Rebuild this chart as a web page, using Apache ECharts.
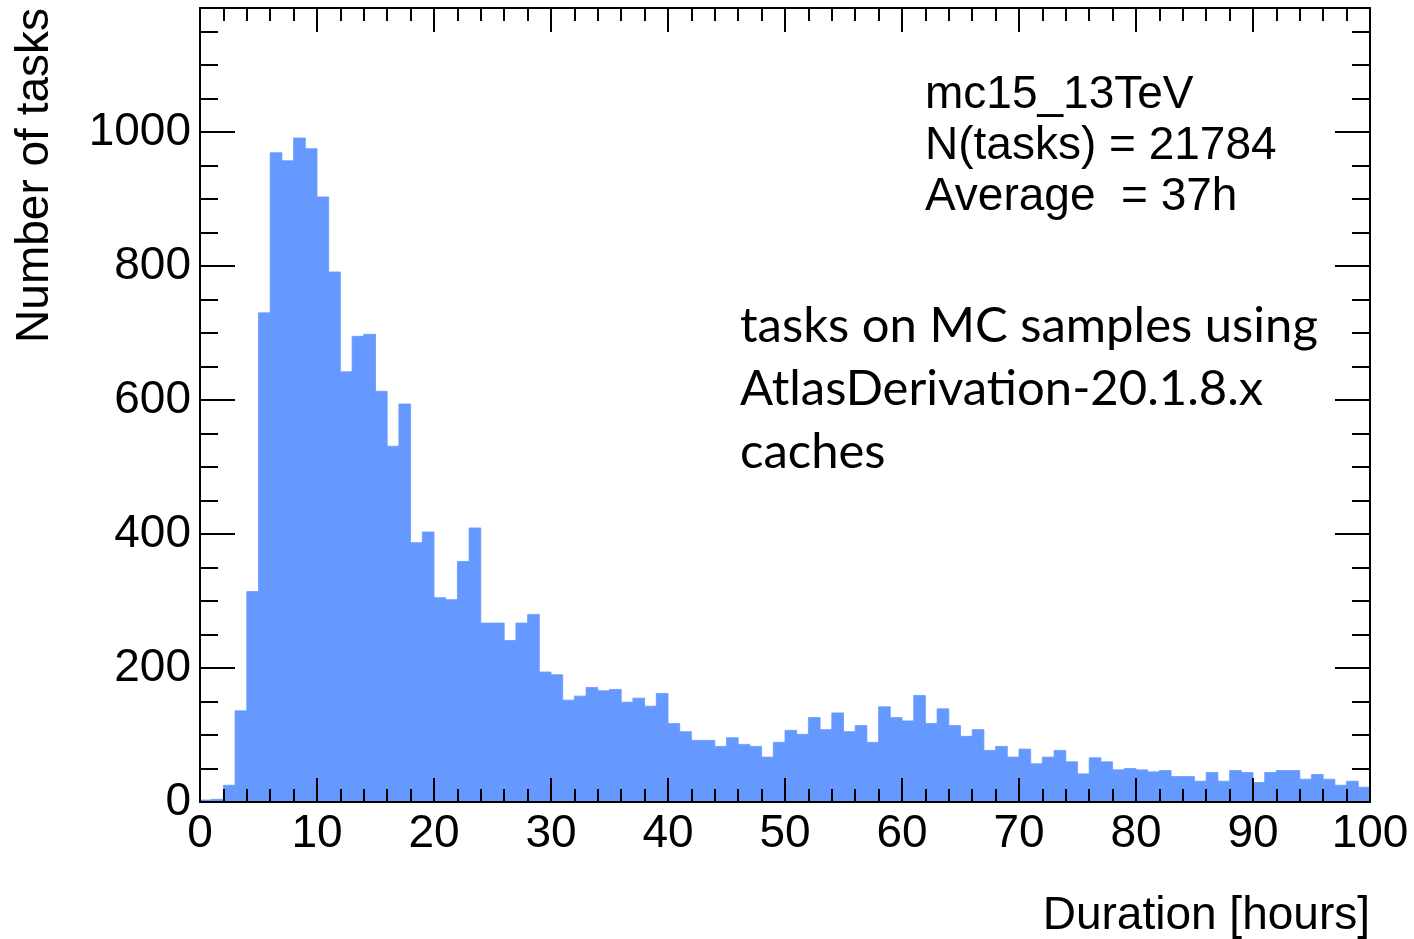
<!DOCTYPE html>
<html>
<head>
<meta charset="utf-8">
<script src="https://cdn.jsdelivr.net/npm/echarts@6/dist/echarts.min.js"></script>
<style>
  html, body { margin: 0; padding: 0; background: #fff; }
  #chart { width: 1414px; height: 939px; }
</style>
</head>
<body>
<div id="chart"></div>
<script>
// ---- data (bin width 1 h, 0..100 h) ----
const binWidth = 1;
const counts = [
  3, 4, 25, 136, 314, 730, 969, 957, 991, 975,
  903, 791, 642, 695, 698, 613, 531, 594, 387, 403,
  305, 302, 359, 409, 267, 267, 241, 267, 280, 194,
  190, 152, 158, 171, 166, 168, 149, 155, 143, 162,
  117, 105, 92, 92, 83, 96, 86, 83, 67, 89,
  107, 101, 126, 108, 133, 105, 114, 89, 142, 126,
  121, 159, 117, 139, 114, 98, 108, 77, 83, 67,
  79, 57, 67, 77, 60, 42, 66, 60, 48, 50,
  48, 45, 47, 38, 38, 31, 44, 31, 47, 44,
  29, 44, 47, 47, 34, 41, 34, 25, 31, 22
];
const xTickLabels = ['0','10','20','30','40','50','60','70','80','90','100'];
const yTickLabels = ['0','200','400','600','800','1000'];
const statsLines = ['mc15_13TeV', 'N(tasks) = 21784', 'Average  = 37h'];
const noteLines = ['tasks on MC samples using', 'AtlasDerivation-20.1.8.x', 'caches'];
const xTitle = 'Duration [hours]';
const yTitle = 'Number of tasks';

const BAR_COLOR = '#6699FF';
const FONT = '"Liberation Sans", Arial, Helvetica, sans-serif';

const histData = counts.map((c, i) => [i * binWidth, (i + 1) * binWidth, c]);

const chart = echarts.init(document.getElementById('chart'), null, { renderer: 'canvas' });

const lineStyle = { color: '#000', width: 2 };
function xAxisDef(pos, showLabels) {
  return {
    type: 'value', position: pos, min: 0, max: 100, interval: 10, z: 10,
    axisLine: { show: true, onZero: false, lineStyle },
    axisTick: { show: true, inside: true, length: 24, lineStyle },
    minorTick: { show: true, splitNumber: 5, length: 13, lineStyle },
    splitLine: { show: false }, minorSplitLine: { show: false },
    axisLabel: {
      show: showLabels, color: '#000', fontFamily: FONT, fontSize: 46, margin: 9,
      formatter: v => xTickLabels[Math.round(v / 10)] ?? ''
    }
  };
}
function yAxisDef(pos, interval, tickLen, showLine, showLabels) {
  return {
    type: 'value', position: pos, min: 0, max: 1185, interval: interval, z: 10,
    axisLine: { show: showLine, onZero: false, lineStyle },
    axisTick: { show: true, inside: true, length: tickLen, lineStyle },
    splitLine: { show: false },
    axisLabel: {
      show: showLabels, color: '#000', fontFamily: FONT, fontSize: 46, margin: 9,
      showMaxLabel: false,
      formatter: v => (v % 200 === 0 && yTickLabels.includes(String(v))) ? String(v) : ''
    }
  };
}

const option = {
  animation: false,
  backgroundColor: '#fff',
  grid: { left: 200, right: 44, top: 8, bottom: 137, containLabel: false },
  xAxis: [xAxisDef('bottom', true), xAxisDef('top', false)],
  yAxis: [
    yAxisDef('left', 200, 35, true, true),
    yAxisDef('left', 50, 18, false, false),
    yAxisDef('right', 200, 35, true, false),
    yAxisDef('right', 50, 18, false, false)
  ],
  series: [{
    type: 'custom',
    xAxisIndex: 0, yAxisIndex: 0,
    data: histData,
    encode: { x: [0, 1], y: 2 },
    renderItem: function (params, api) {
      const x0 = api.value(0), x1 = api.value(1), v = api.value(2);
      const pTop = api.coord([x0, v]);
      const pEnd = api.coord([x1, 0]);
      return {
        type: 'rect',
        shape: { x: pTop[0], y: pTop[1], width: pEnd[0] - pTop[0], height: pEnd[1] - pTop[1] },
        style: { fill: BAR_COLOR, stroke: BAR_COLOR, lineWidth: 0.8 }
      };
    }
  }],
  graphic: [
    ...statsLines.map((t, i) => ({
      type: 'text', left: 925, top: 72 + i * 51, z: 20,
      style: { text: t, fill: '#000', font: '46px ' + FONT }
    })),
    ...noteLines.map((t, i) => ({
      type: 'text', left: 740, top: 302 + i * 63, z: 20,
      style: { text: t, fill: '#000', font: '49px Lato, "Open Sans", sans-serif' }
    })),
    {
      type: 'text', z: 20, x: 1370, y: 916,
      style: { text: xTitle, fill: '#000', font: '46px ' + FONT, align: 'right', verticalAlign: 'middle' }
    },
    {
      type: 'text', z: 20, x: 35, y: 8, rotation: Math.PI / 2,
      style: { text: yTitle, fill: '#000', font: '46px ' + FONT, align: 'right', verticalAlign: 'middle' }
    }
  ]
};
chart.setOption(option);
</script>
</body>
</html>
